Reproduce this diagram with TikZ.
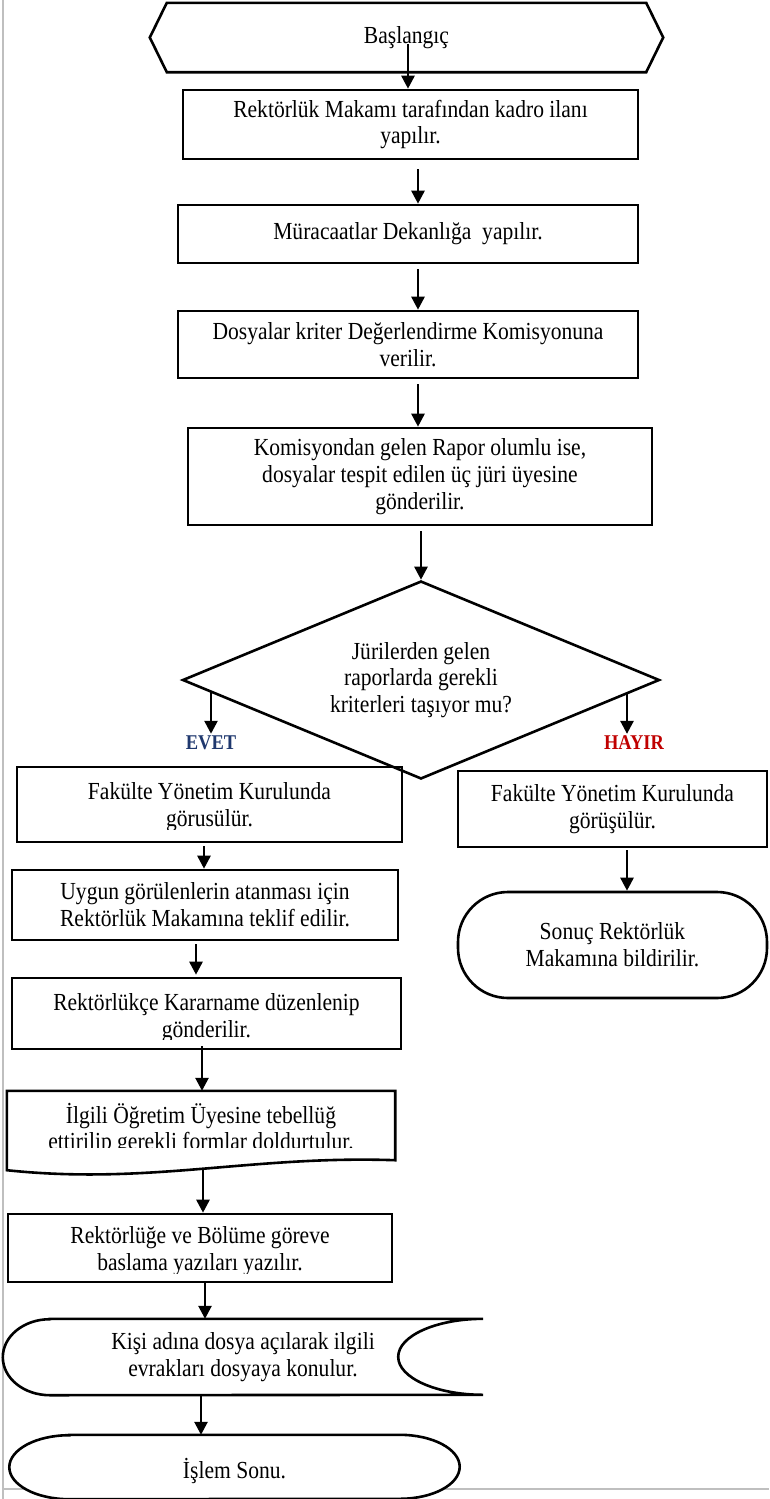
\documentclass[tikz,border=0pt]{standalone}
\usepackage{fontspec}
\setmainfont{Liberation Serif}[FakeStretch=0.88]
\usetikzlibrary{arrows.meta,shapes.geometric}
\newcommand{\boxfont}{\fontsize{24.5}{26.8}\selectfont}
\definecolor{evetblue}{RGB}{31,56,110}
\definecolor{hayirred}{RGB}{192,0,0}
\tikzset{
  box/.style={draw, line width=2.6pt, align=center, inner sep=0pt, font=\boxfont},
  txt/.style={align=center, inner sep=0pt, font=\boxfont},
  shp/.style={line width=2.6pt},
  arr/.style={line width=2.6pt, -{Triangle[width=13pt,length=13pt]}},
  frame/.style={draw=gray!50, line width=1.5pt},
  answer/.style={inner sep=2pt, font=\fontsize{21}{24}\selectfont\bfseries},
}
\begin{document}
\begin{tikzpicture}[x=1pt,y=-1pt]
\useasboundingbox (0,0) rectangle (769,1499);
\draw[frame] (3,0) -- (3,1499);
\draw[frame] (3,1489) -- (769,1489);

\node[txt, minimum width=513pt, minimum height=69pt] (start) at (406.5,37.5) {Başlangıç};
\draw[shp] (start.west) -- ([xshift=17pt]start.north west) -- ([xshift=-17pt]start.north east)
  -- (start.east) -- ([xshift=-17pt]start.south east) -- ([xshift=17pt]start.south west) -- cycle;

\node[box, minimum width=455pt, minimum height=69pt] (r1) at (410.5,124.5) {Rektörlük Makamı tarafından kadro ilanı\\yapılır.};
\node[box, minimum width=460pt, minimum height=58pt] (r2) at (408,234) {Müracaatlar Dekanlığa~ yapılır.};
\node[box, minimum width=460pt, minimum height=67pt] (r3) at (408,344.5) {Dosyalar kriter Değerlendirme Komisyonuna\\verilir.};
\node[box, minimum width=464pt, minimum height=97pt] (r4) at (420,476.5) {Komisyondan gelen Rapor olumlu ise,\\dosyalar tespit edilen üç jüri üyesine\\gönderilir.};
\node[diamond, shape aspect=2.4, draw, line width=2.6pt, minimum width=477pt, minimum height=198pt,
  inner sep=0pt, align=center, font=\boxfont] (dec) at (421,680) {Jürilerden gelen\\raporlarda gerekli\\kriterleri taşıyor mu?};
\node[answer, text=evetblue] (evet) at (211,743) {EVET};
\node[answer, text=hayirred] (hayir) at (634,743) {HAYIR};

\node[box, minimum width=385pt, minimum height=75pt] (r5) at (209.5,804.5) {};
\begin{scope}
\clip (r5.north west) rectangle ([yshift=14pt]r5.south east);
\node[txt] (r5t) at (209.5,807.5) {Fakülte Yönetim Kurulunda\\görusülür.};
\end{scope}
\node[box, minimum width=309pt, minimum height=76pt] (r6) at (612.5,809) {Fakülte Yönetim Kurulunda\\görüşülür.};
\node[box, rounded corners=50pt, minimum width=309pt, minimum height=106pt] (end1) at (612.5,945) {Sonuç Rektörlük\\Makamına bildirilir.};

\node[box, minimum width=386pt, minimum height=70pt] (r7) at (205,905) {Uygun görülenlerin atanması için\\Rektörlük Makamına teklif edilir.};
\node[box, minimum width=389pt, minimum height=71pt] (r8) at (206.5,1013.5) {};
\begin{scope}
\clip (r8.north west) rectangle ([yshift=11pt]r8.south east);
\node[txt] (r8t) at (206.5,1018.5) {Rektörlükçe Kararname düzenlenip\\gönderilir.};
\end{scope}

\node[minimum width=388pt, minimum height=74pt, inner sep=0pt] (doc) at (201,1128) {};
\draw[shp] (doc.north west) -- (doc.north east) -- ([yshift=5pt]doc.south east)
  .. controls +(-145pt,5pt) and +(143pt,-15pt) .. ([yshift=-5pt]doc.south west) -- cycle;
\begin{scope}
\clip (doc.north west) rectangle ([yshift=18pt]doc.south east);
\node[txt] (doct) at (201,1129) {İlgili Öğretim Üyesine tebellüğ\\ettirilip gerekli formlar doldurtulur.};
\end{scope}

\node[box, minimum width=384pt, minimum height=68pt] (r9) at (200,1248) {};
\begin{scope}
\clip (r9.north west) rectangle ([yshift=10pt]r9.south east);
\node[txt] (r9t) at (200,1251.5) {Rektörlüğe ve Bölüme göreve\\baslama yazıları yazılır.};
\end{scope}

\node[txt, minimum width=480pt, minimum height=76pt] (store) at (243,1357) {Kişi adına dosya açılarak ilgili\\evrakları dosyaya konulur.};
\draw[shp] ([xshift=47pt]store.north west) -- (store.north east)
  arc[start angle=90, end angle=270, x radius=85pt, y radius=38pt]
  -- ([xshift=47pt]store.south west)
  arc[start angle=270, end angle=90, x radius=47pt, y radius=38pt] -- cycle;

\node[minimum width=450pt, minimum height=64pt, inner sep=0pt] (end2) at (234.5,1467) {};
\draw[shp, fill=white] ([xshift=60pt]end2.north west) -- ([xshift=-60pt]end2.north east)
  arc[start angle=90, end angle=-90, x radius=60pt, y radius=32pt]
  -- ([xshift=60pt]end2.south west)
  arc[start angle=270, end angle=90, x radius=60pt, y radius=32pt] -- cycle;
\node[txt] (end2t) at ([yshift=-4pt]end2.center) {İşlem Sonu.};

\draw[arr] ([xshift=1.5pt,yshift=28pt]start.south) -- ([xshift=1.5pt]start.south |- r1.north);
\draw[arr, shorten <=9pt] ([xshift=7.5pt]r1.south) -- ([xshift=7.5pt]r1.south |- r2.north);
\draw[arr, shorten <=5pt] ([xshift=10pt]r2.south) -- ([xshift=10pt]r2.south |- r3.north);
\draw[arr, shorten <=5pt] ([xshift=10pt]r3.south) -- ([xshift=10pt]r3.south |- r4.north);
\draw[arr, shorten <=5pt] ([xshift=1pt]r4.south) -- (dec.north);
\draw[arr, shorten <=12pt] (evet |- dec.west) -- (evet.north);
\draw[arr, shorten <=14pt] ([xshift=-7pt]hayir.north |- dec.east) -- ([xshift=-7pt]hayir.north);
\draw[arr, shorten <=2pt] ([xshift=14.5pt]r6.south) -- ([xshift=14.5pt]r6.south |- end1.north);
\draw[arr, shorten <=3pt] ([xshift=-5.5pt]r5.south) -- ([xshift=-5.5pt]r5.south |- r7.north);
\draw[arr, shorten <=3pt, shorten >=2pt] ([xshift=-9pt]r7.south) -- ([xshift=-9pt]r7.south |- r8.north);
\draw[arr] ([xshift=-4.5pt,yshift=4pt]r8.south) -- ([xshift=-4.5pt]r8.south |- doc.north);
\draw[arr, shorten <=3pt] ([xshift=2pt]doc.south) -- ([xshift=2pt]doc.south |- r9.north);
\draw[arr] ([xshift=5pt]r9.south) -- ([xshift=5pt]r9.south |- store.north);
\draw[arr] ([xshift=-42pt]store.south) -- ([xshift=-42pt]store.south |- end2.north);
\end{tikzpicture}
\end{document}
